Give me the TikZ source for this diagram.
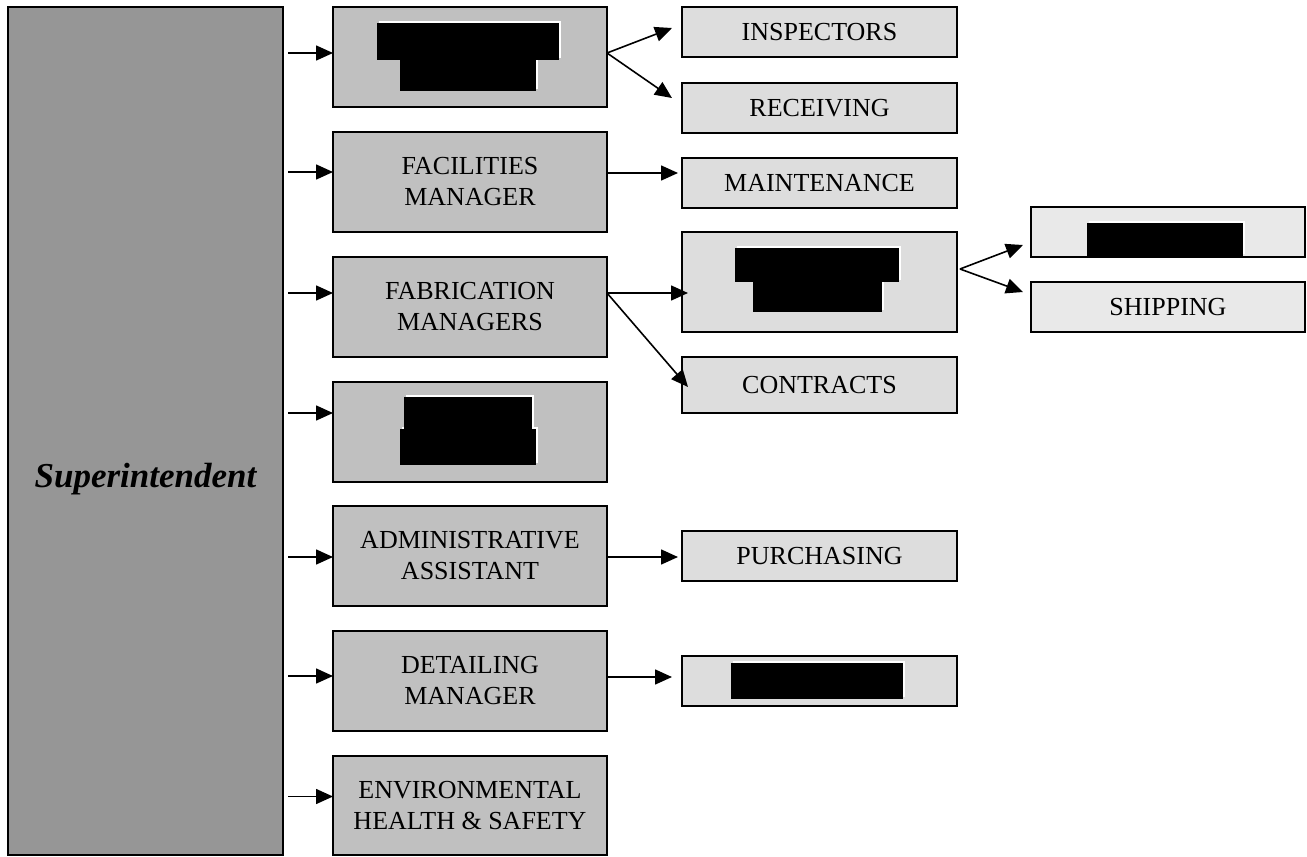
\documentclass[tikz,border=0pt]{standalone}
\usepackage{fontspec}
\setmainfont{Liberation Serif}
\usetikzlibrary{arrows.meta,calc}
\definecolor{supfill}{HTML}{969696}
\definecolor{midfill}{HTML}{C0C0C0}
\definecolor{rightfill}{HTML}{DDDDDD}
\definecolor{farfill}{HTML}{E9E9E9}
\tikzset{
  box/.style={draw=black, line width=1.8pt, inner sep=0pt, outer sep=0pt, align=center,
    font=\fontsize{26}{31}\selectfont},
  supbox/.style={box, fill=supfill, line width=2.2pt, minimum width=275pt, minimum height=848pt},
  midbox/.style={box, fill=midfill, minimum width=274pt, minimum height=100pt},
  rbox/.style={box, fill=rightfill, minimum width=275pt, minimum height=50pt},
  farbox/.style={box, fill=farfill, minimum width=274pt, minimum height=50pt},
  arr/.style={line width=1.6pt, -{Triangle[length=17pt,width=15pt]}},
}
\newcommand\myredwhite[4]{\fill[white] ($(#1,#2)+(1.8,-1.8)$) rectangle ($(#3,#4)+(1.8,-1.8)$);}
\newcommand\myredblack[4]{\fill[black] (#1,#2) rectangle (#3,#4);}
\begin{document}
\begin{tikzpicture}[x=1pt,y=-1pt]
\useasboundingbox (0,0) rectangle (1307,857);
% Superintendent
\node[supbox] (super) at (145.5,431) {};
\node[font=\fontsize{35}{40}\selectfont\bfseries\itshape, anchor=base, inner sep=0pt] (suptext) at (145.5,487) {Superintendent};
% middle column
\node[midbox] (b1) at (470,57) {};
\node[midbox] (b2) at (470,182) {FACILITIES\\MANAGER};
\node[midbox] (b3) at (470,307) {FABRICATION\\MANAGERS};
\node[midbox] (b4) at (470,432) {};
\node[midbox] (b5) at (470,556) {ADMINISTRATIVE\\ASSISTANT};
\node[midbox] (b6) at (470,681) {DETAILING\\MANAGER};
\node[midbox, minimum height=99pt] (b7) at (470,805.5) {ENVIRONMENTAL\\HEALTH \& SAFETY};
% right column
\node[rbox] (insp) at (819.5,32) {INSPECTORS};
\node[rbox] (recv) at (819.5,108) {RECEIVING};
\node[rbox] (maint) at (819.5,183) {MAINTENANCE};
\node[rbox, minimum height=100pt] (fabred) at (819.5,282) {};
\node[rbox, minimum height=56pt] (contr) at (819.5,385) {CONTRACTS};
\node[rbox] (purch) at (819.5,556) {PURCHASING};
\node[rbox] (detred) at (819.5,681) {};
% far right column
\node[farbox] (up) at (1168,232) {};
\node[farbox] (ship) at (1168,307) {SHIPPING};
% redactions
\myredwhite{377}{23}{559}{60}\myredwhite{400}{60}{536}{91}
\myredblack{377}{23}{559}{60}\myredblack{400}{60}{536}{91}
\myredwhite{404}{397}{532}{429}\myredwhite{400}{429}{536}{465}
\myredblack{404}{397}{532}{429}\myredblack{400}{429}{536}{465}
\myredwhite{735}{248}{899}{282}\myredwhite{753}{282}{882}{312}
\myredblack{735}{248}{899}{282}\myredblack{753}{282}{882}{312}
\myredwhite{1087}{223}{1243}{256}\myredblack{1087}{223}{1243}{256}
\myredwhite{731}{663}{903}{699}\myredblack{731}{663}{903}{699}
% arrows from Superintendent
\draw[arr] ($(super.east |- b1.west)+(5,-4)$) -- ($(b1.west)+(0,-4)$);
\draw[arr] ($(super.east |- b2.west)+(5,-10)$) -- ($(b2.west)+(0,-10)$);
\draw[arr] ($(super.east |- b3.west)+(5,-14)$) -- ($(b3.west)+(0,-14)$);
\draw[arr] ($(super.east |- b4.west)+(5,-19)$) -- ($(b4.west)+(0,-19)$);
\draw[arr] ($(super.east |- b5.west)+(5,1)$) -- ($(b5.west)+(0,1)$);
\draw[arr] ($(super.east |- b6.west)+(5,-5)$) -- ($(b6.west)+(0,-5)$);
\draw[arr] ($(super.east |- b7.west)+(5,-9)$) -- ($(b7.west)+(0,-9)$);
% second level
\draw[arr] ($(b1.east)+(0,-4)$) -- ($(insp.west)+(-10,-4)$);
\draw[arr] ($(b1.east)+(0,-4)$) -- ($(recv.west)+(-10,-10)$);
\draw[arr] ($(b2.east)+(0,-9)$) -- ($(maint.west)+(-4,-10)$);
\draw[arr] ($(b3.east)+(0,-14)$) -- ($(fabred.west)+(6,11)$);
\draw[arr] ($(b3.east)+(0,-14)$) -- ($(contr.west)+(6,2)$);
\draw[arr] ($(b5.east)+(0,1)$) -- ($(purch.west)+(-4,1)$);
\draw[arr] ($(b6.east)+(0,-4)$) -- ($(detred.west)+(-10,-4)$);
% third level
\draw[arr] ($(fabred.east)+(3,-13)$) -- ($(up.west)+(-8,13)$);
\draw[arr] ($(fabred.east)+(3,-13)$) -- ($(ship.west)+(-8,-15)$);
\end{tikzpicture}
\end{document}
